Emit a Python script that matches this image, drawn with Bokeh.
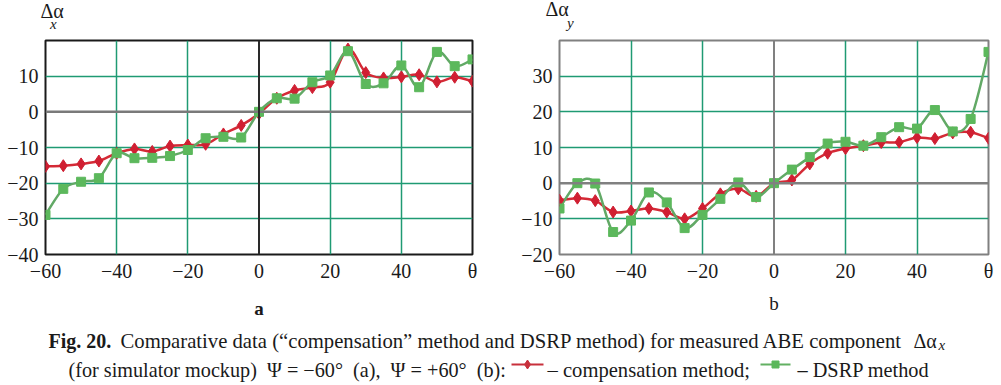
from bokeh.plotting import figure
from bokeh.models import Range1d, FixedTicker, Span, LinearAxis
from bokeh.layouts import column, row
from bokeh.core.properties import value
from bokeh.embed import file_html
from bokeh.resources import INLINE

theta = [-60, -55, -50, -45, -40, -35, -30, -25, -20, -15, -10, -5, 0,
         5, 10, 15, 20, 25, 30, 35, 40, 45, 50, 55, 60]

# (a) Psi = -60 deg, delta alpha_x
a_comp = [-15.3, -15.1, -14.6, -13.8, -11.6, -10.4, -11.1, -9.6, -9.3, -9.1, -6.2, -3.8, -0.5,
          3.8, 6.0, 6.8, 8.3, 17.6, 11.0, 9.5, 9.8, 10.4, 8.4, 9.7, 8.6]
a_dsrp = [-28.9, -21.6, -19.6, -18.6, -11.6, -13.0, -12.9, -12.4, -10.7, -7.4, -7.0, -7.2, 0.0,
          3.8, 3.7, 8.3, 10.2, 17.0, 7.8, 8.0, 13.0, 6.9, 16.8, 12.8, 14.7]

# (b) Psi = +60 deg, delta alpha_y
b_comp = [-4.8, -4.2, -4.9, -8.1, -7.8, -7.1, -8.1, -10.0, -7.1, -3.0, -1.6, -3.7, 0.0,
          0.9, 5.4, 8.4, 9.7, 10.5, 11.4, 11.5, 12.8, 12.5, 14.1, 14.3, 12.6]
b_dsrp = [-7.1, 0.0, -0.1, -13.7, -10.5, -2.6, -5.4, -12.6, -8.9, -4.4, 0.2, -3.9, 0.0,
          3.8, 7.3, 11.1, 11.6, 10.5, 12.9, 15.7, 15.3, 20.5, 14.5, 18.0, 36.8]

x_ticks = [-60, -40, -20, 0, 20, 40, 60]
x_tick_labels = ["\u221260", "\u221240", "\u221220", "0", "20", "40", "\u03b8"]
a_y_ticks = [-40, -30, -20, -10, 0, 10]
a_y_tick_labels = ["\u221240", "\u221230", "\u221220", "\u221210", "0", "10"]
b_y_ticks = [-20, -10, 0, 10, 20, 30]
b_y_tick_labels = ["\u221220", "\u221210", "0", "10", "20", "30"]

SERIF = "Liberation Serif"
INK = "#1a1a1a"
RED = "#d01f32"
RED_LINE = "#d42a36"
GREEN = "#5cb85c"
GREEN_LINE = "#62a966"
GRID = "#1f9a73"


def smooth_segments(xs, ys):
    n = len(xs)
    seg = dict(x0=[], y0=[], x1=[], y1=[], cx0=[], cy0=[], cx1=[], cy1=[])
    for i in range(n - 1):
        p0 = i - 1 if i > 0 else i
        p3 = i + 2 if i + 2 < n else i + 1
        seg["x0"].append(xs[i]); seg["y0"].append(ys[i])
        seg["x1"].append(xs[i + 1]); seg["y1"].append(ys[i + 1])
        seg["cx0"].append(xs[i] + (xs[i + 1] - xs[p0]) / 6.0)
        seg["cy0"].append(ys[i] + (ys[i + 1] - ys[p0]) / 6.0)
        seg["cx1"].append(xs[i + 1] - (xs[p3] - xs[i]) / 6.0)
        seg["cy1"].append(ys[i + 1] - (ys[p3] - ys[i]) / 6.0)
    return seg


def make_panel(width, height, bl, br, bt, bb, yr, yticks, ylabels, comp, dsrp,
               panel_label, label_bold, label_standoff, frame_color, zero_h, zero_v,
               title_offset, title_standoff, sub, sub_x, sub_standoff):
    p = figure(width=width, height=height, output_backend="svg", toolbar_location=None,
               x_range=Range1d(-60, 60), y_range=Range1d(*yr),
               min_border_left=bl, min_border_right=br, min_border_top=bt, min_border_bottom=bb)
    p.background_fill_color = "white"
    p.border_fill_color = "white"
    p.outline_line_color = frame_color
    p.outline_line_width = 2
    p.outline_line_alpha = 1.0

    # subscript of the y title: a tick-free axis above the frame
    sub_axis = LinearAxis(ticker=FixedTicker(ticks=[sub_x]),
                          major_label_overrides={sub_x: sub})
    sub_axis.axis_line_color = None
    sub_axis.major_tick_line_color = None
    sub_axis.minor_tick_line_color = None
    sub_axis.major_tick_out = 0
    sub_axis.major_tick_in = 0
    sub_axis.minor_tick_out = 0
    sub_axis.major_label_standoff = sub_standoff
    sub_axis.major_label_text_font = SERIF
    sub_axis.major_label_text_font_size = "15px"
    sub_axis.major_label_text_font_style = "italic"
    sub_axis.major_label_text_color = INK
    p.add_layout(sub_axis, "above")

    p.title.text = "\u0394\u03b1"
    p.title.align = "left"
    p.title.offset = title_offset
    p.title.standoff = title_standoff
    p.title.text_font = SERIF
    p.title.text_font_size = "20px"
    p.title.text_font_style = "normal"
    p.title.text_color = INK

    xax = p.below[0]
    yax = p.left[0]
    xax.ticker = FixedTicker(ticks=x_ticks)
    xax.major_label_overrides = dict(zip(x_ticks, x_tick_labels))
    yax.ticker = FixedTicker(ticks=yticks)
    yax.major_label_overrides = dict(zip(yticks, ylabels))
    for ax in (xax, yax):
        ax.axis_line_color = None
        ax.major_tick_line_color = None
        ax.minor_tick_line_color = None
        ax.major_tick_out = 0
        ax.major_tick_in = 0
        ax.minor_tick_out = 0
        ax.major_label_text_font = SERIF
        ax.major_label_text_font_size = "20px"
        ax.major_label_text_color = INK
    xax.major_label_standoff = 5
    yax.major_label_standoff = 7
    xax.axis_label = panel_label
    xax.axis_label_text_font = SERIF
    xax.axis_label_text_font_size = "19px"
    xax.axis_label_text_font_style = "bold" if label_bold else "normal"
    xax.axis_label_text_color = INK
    xax.axis_label_standoff = label_standoff

    p.xgrid.ticker = FixedTicker(ticks=[-40, -20, 20, 40])
    p.ygrid.ticker = FixedTicker(ticks=[t for t in yticks if t not in (0, yr[0])])
    for g in (p.xgrid[0], p.ygrid[0]):
        g.grid_line_color = GRID
        g.grid_line_width = 1.5

    p.add_layout(Span(location=0, dimension="width", line_color=zero_h, line_width=2.5))
    p.add_layout(Span(location=0, dimension="height", line_color=zero_v, line_width=2))

    for vals, lc in ((comp, RED_LINE), (dsrp, GREEN_LINE)):
        s = smooth_segments(theta, vals)
        p.bezier(x0=s["x0"], y0=s["y0"], x1=s["x1"], y1=s["y1"],
                 cx0=s["cx0"], cy0=s["cy0"], cx1=s["cx1"], cy1=s["cy1"],
                 line_color=lc, line_width=2.5)
    p.scatter(theta, comp, marker="diamond", size=12, fill_color=RED, line_color=RED)
    p.scatter(theta, dsrp, marker="square", size=9, fill_color=GREEN, line_color=GREEN)
    return p


# left panel: frame x 45..472, y 37..254 ; right panel: frame x 559..988, y 40..259
pa = make_panel(505, 322, 45, 33, 37, 68, (-40, 20), a_y_ticks, a_y_tick_labels,
                a_comp, a_dsrp, "a", True, 13, "#1a1a1a", "#7a7a7a", "#2a2a2a",
                -5, -19, "x", -57.8, 9)
pb = make_panel(495, 322, 54, 12, 40, 63, (-20, 40), b_y_ticks, b_y_tick_labels,
                b_comp, b_dsrp, "b", False, 8, "#808080", "#808080", "#808080",
                -14, -17, "y", -57.0, 10)


def canvas(width, height):
    c = figure(width=width, height=height, output_backend="svg", toolbar_location=None,
               x_range=Range1d(0, width), y_range=Range1d(height, 0),
               x_axis_type=None, y_axis_type=None,
               min_border_left=0, min_border_right=0, min_border_top=0, min_border_bottom=0)
    c.outline_line_color = None
    c.background_fill_color = "white"
    c.border_fill_color = "white"
    return c


def put(c, x, y, txt, size="20px", style="normal", align="left"):
    c.text(x=[x], y=[y], text=[txt], text_font=value(SERIF), text_font_size=value(size),
           text_font_style=style, text_color=INK, text_baseline="alphabetic", text_align=align)


# caption (canvas x = page x, canvas y = page y - 322)
cap = canvas(1000, 62)
b1, b2 = 18, 47
NB = "\u00a0"
put(cap, 48, b1, "Fig. 20.", "20px", "bold")
put(cap, 120, b1, "Comparative data (\u201ccompensation\u201d method and DSRP method) "
    "for measured ABE component", "20.7px")
put(cap, 913, b1, "\u0394\u03b1")
put(cap, 938, b1 + 4, "x", "15px", "italic")
put(cap, 68, b2, "(for simulator mockup)" + NB + NB + "\u03a8 = \u221260\u00b0" + NB + NB
    + "(a)," + NB + NB + "\u03a8 = +60\u00b0" + NB + NB + "(b):", "20.2px")
cap.line(x=[511, 543], y=[b2 - 5, b2 - 5], line_color="#c8303c", line_width=2)
cap.scatter(x=[527], y=[b2 - 5], marker="diamond", size=9, fill_color="#c8303c", line_color="#c8303c")
put(cap, 547, b2, "\u2013 compensation method;", "20.6px")
cap.line(x=[760, 790], y=[b2 - 5, b2 - 5], line_color="#62b062", line_width=2)
cap.scatter(x=[775], y=[b2 - 5], marker="square", size=7, fill_color=GREEN, line_color=GREEN)
put(cap, 797, b2, "\u2013 DSRP method", "20.3px")

layout = column(row(pa, pb), cap)

with open("out.html", "w") as f:
    f.write(file_html(layout, INLINE))
